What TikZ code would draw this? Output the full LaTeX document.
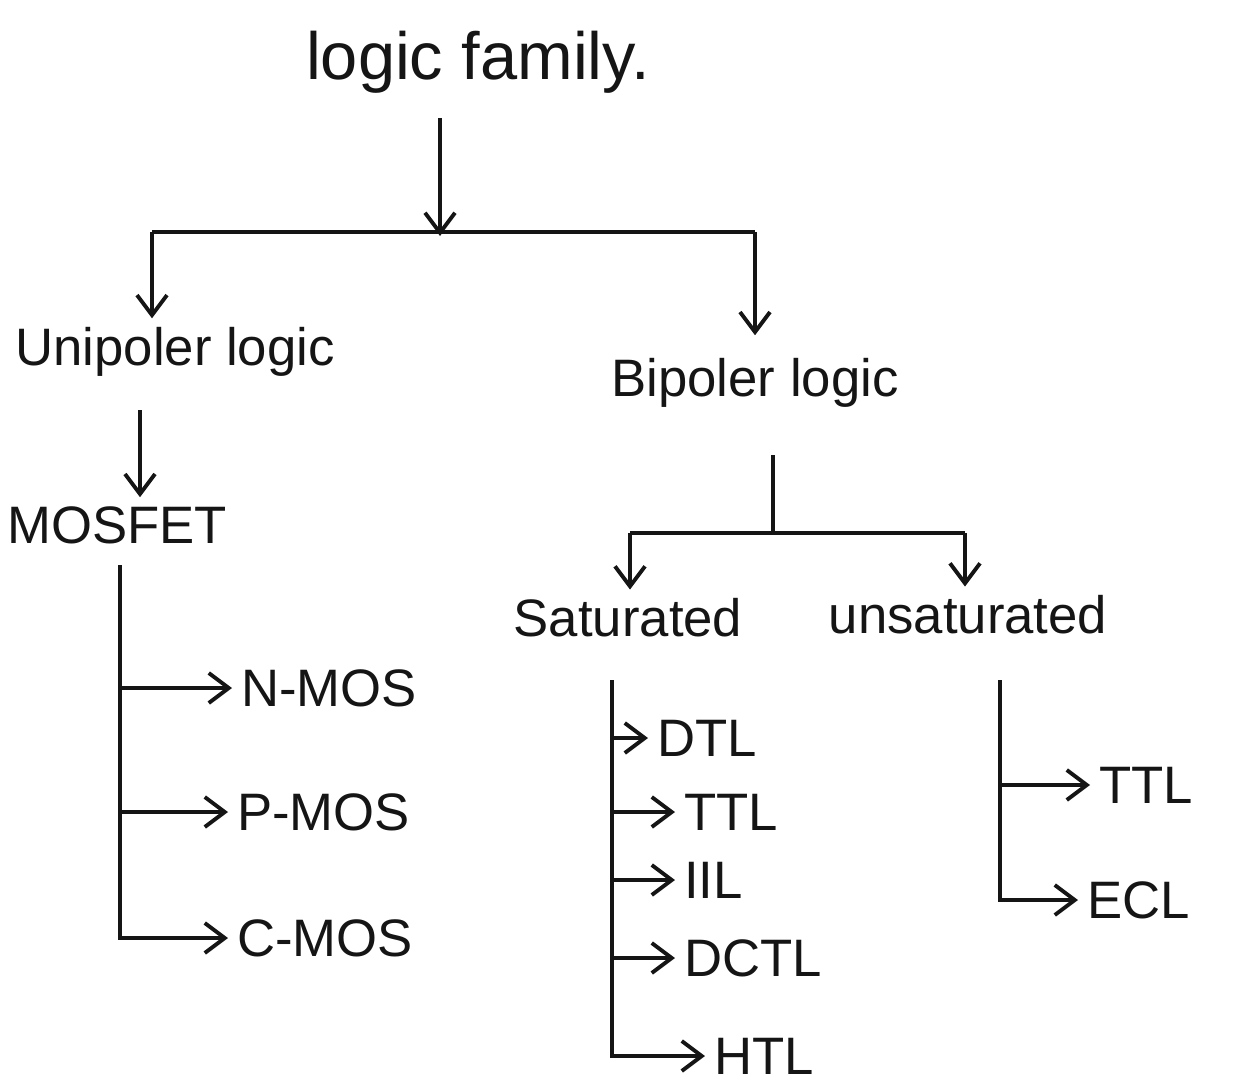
\documentclass[tikz,border=0pt]{standalone}
\usepackage{fontspec}
\setmainfont{Liberation Sans}
\usetikzlibrary{arrows.meta}
\definecolor{ink}{HTML}{151515}
\begin{document}
\begin{tikzpicture}[x=0.02cm,y=-0.02cm,
  lbl/.style={inner sep=5pt, text=ink, font=\fontsize{30}{34}\selectfont},
  ttlbox/.style={inner sep=5pt, text=ink, font=\fontsize{38}{42}\selectfont},
  ln/.style={line width=2.2pt, draw=ink},
  arr/.style={ln, -{Straight Barb[length=4mm,width=6mm]}}]
\useasboundingbox (0,0) rectangle (1251,1092);

% top level
\node[ttlbox] (title) at (478,62) {logic family.};
\coordinate (t1) at (440,118);
\coordinate (t2) at (440,236);
\coordinate (hl) at (152,232);
\coordinate (hr) at (755,232);
\node[lbl] (uni) at (175,352) {Unipoler logic};
\node[lbl] (bip) at (755,383) {Bipoler logic};
\draw[arr] (t1) -- (t2);
\draw[ln] (hl) -- (hr);
\draw[arr] (hl) -- (hl |- uni.north);
\draw[arr] (hr) -- ([yshift=8pt]bip.north);

% unipolar branch
\coordinate (ua) at (140,410);
\node[lbl] (mos) at (117,525) {MOSFET};
\draw[arr] (ua) -- (ua |- mos.north);
\coordinate (mt) at (120,565);
\node[lbl,anchor=west] (nmos) at (232,688) {N-MOS};
\node[lbl,anchor=west] (pmos) at (228,812) {P-MOS};
\node[lbl,anchor=west] (cmos) at (228,938) {C-MOS};
\draw[arr] (mt) |- (cmos.west);
\draw[arr] (mt |- nmos.west) -- (nmos.west);
\draw[arr] (mt |- pmos.west) -- (pmos.west);

% bipolar branch
\coordinate (bt) at (773,455);
\coordinate (bj) at (773,533);
\coordinate (bl) at (630,533);
\coordinate (br) at (965,533);
\draw[ln] (bt) -- (bj);
\draw[ln] (bl) -- (br);
\node[lbl] (sat) at (628,618) {Saturated};
\node[lbl] (unsat) at (968,615) {unsaturated};
\draw[arr] (bl) -- (bl |- sat.north);
\draw[arr] (br) -- (br |- unsat.north);

% saturated list
\coordinate (st) at (612,680);
\node[lbl,anchor=west] (dtl) at (648,738) {DTL};
\node[lbl,anchor=west] (ttla) at (675,812) {TTL};
\node[lbl,anchor=west] (iil) at (675,880) {IIL};
\node[lbl,anchor=west] (dctl) at (675,958) {DCTL};
\node[lbl,anchor=west] (htl) at (705,1056) {HTL};
\draw[arr] (st) |- (htl.west);
\draw[arr] (st |- dtl.west) -- (dtl.west);
\draw[arr] (st |- ttla.west) -- (ttla.west);
\draw[arr] (st |- iil.west) -- (iil.west);
\draw[arr] (st |- dctl.west) -- (dctl.west);

% unsaturated list
\coordinate (ut) at (1000,680);
\node[lbl,anchor=west] (ttlb) at (1090,785) {TTL};
\node[lbl,anchor=west] (ecl) at (1078,900) {ECL};
\draw[arr] (ut) |- (ecl.west);
\draw[arr] (ut |- ttlb.west) -- (ttlb.west);
\end{tikzpicture}
\end{document}
